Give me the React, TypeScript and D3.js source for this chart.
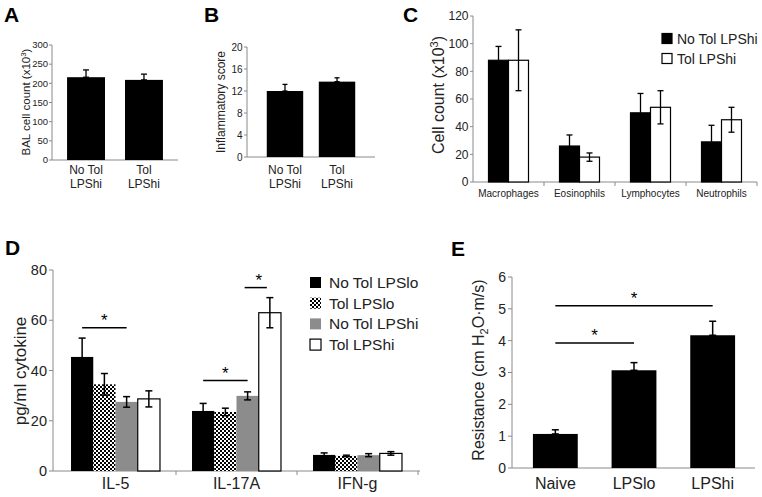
import React from 'react';
import * as d3 from 'd3';

// ---------- Data ----------
const abCategories = ['No Tol|LPShi', 'Tol|LPShi'];
const aValues = [216, 209];
const aErrors = [19, 15];
const aTicks = [0, 50, 100, 150, 200, 250, 300];

const bValues = [12.0, 13.7];
const bErrors = [1.2, 0.7];
const bTicks = [0, 4, 8, 12, 16, 20];

const cCategories = ['Macrophages', 'Eosinophils', 'Lymphocytes', 'Neutrophils'];
const cSeries = ['No Tol LPShi', 'Tol LPShi'];
const cNoTol = [88, 26, 50, 29];
const cNoTolErr = [10, 8, 14, 12];
const cTol = [88, 18, 54, 45];
const cTolErr = [22, 3, 12, 9];
const cTicks = [0, 20, 40, 60, 80, 100, 120];

const dCategories = ['IL-5', 'IL-17A', 'IFN-g'];
const dSeries = ['No Tol LPSlo', 'Tol LPSlo', 'No Tol LPShi', 'Tol LPShi'];
const dNoTolLo = [45.4, 23.9, 6.4];
const dNoTolLoErr = [7.5, 3.0, 0.8];
const dTolLo = [34.5, 23.5, 6.0];
const dTolLoErr = [4.3, 1.5, 0.3];
const dNoTolHi = [27.5, 29.9, 6.3];
const dNoTolHiErr = [2.1, 1.6, 0.6];
const dTolHi = [28.7, 63.0, 7.0];
const dTolHiErr = [3.2, 6.0, 0.7];
const dTicks = [0, 20, 40, 60, 80];
// significance: category, from-series index, to-series index, level
const dSigCat = ['IL-5', 'IL-17A', 'IL-17A'];
const dSigFrom = [0, 0, 2];
const dSigTo = [2, 2, 3];
const dSigLevel = [57, 36, 73];

const eCategories = ['Naive', 'LPSlo', 'LPShi'];
const eValues = [1.07, 3.07, 4.17];
const eErrors = [0.13, 0.24, 0.44];
const eTicks = [0, 1, 2, 3, 4, 5, 6];
const eSigFrom = ['Naive', 'Naive'];
const eSigTo = ['LPShi', 'LPSlo'];
const eSigLevel = [5.1, 3.93];

// ---------- Styles ----------
const FONT = 'Liberation Sans, Arial, Helvetica, sans-serif';
const AXIS = '#8a8a8a';
const GRAY = '#8c8c8c';

type YAxisProps = { x: number; scale: d3.ScaleLinear<number, number>; ticks: number[]; fs: number; tl?: number; gap?: number };
function YAxis({ x, scale, ticks, fs, tl = 4, gap = 2 }: YAxisProps) {
  const [r0, r1] = scale.range();
  return (
    <g>
      <line x1={x} x2={x} y1={r0} y2={r1} stroke={AXIS} strokeWidth={1} />
      {ticks.map((t) => (
        <g key={t}>
          <line x1={x - tl} x2={x} y1={scale(t)} y2={scale(t)} stroke={AXIS} strokeWidth={1} />
          <text x={x - tl - gap} y={scale(t)} dy="0.35em" textAnchor="end" fontSize={fs} fontFamily={FONT} fill="#222">
            {t}
          </text>
        </g>
      ))}
    </g>
  );
}

function ErrBar({ cx, y0, y1, cap, sw = 1.3 }: { cx: number; y0: number; y1: number; cap: number; sw?: number }) {
  return (
    <g stroke="#000" strokeWidth={sw}>
      <line x1={cx} x2={cx} y1={y0} y2={y1} />
      <line x1={cx - cap} x2={cx + cap} y1={y0} y2={y0} />
      <line x1={cx - cap} x2={cx + cap} y1={y1} y2={y1} />
    </g>
  );
}

function Letter({ x, y, t }: { x: number; y: number; t: string }) {
  return (
    <text x={x} y={y} fontSize={21} fontWeight="bold" fontFamily={FONT} fill="#000">
      {t}
    </text>
  );
}

export default function App() {
  // ----- Panel A -----
  const aY = d3.scaleLinear().domain([0, 300]).range([160, 45]);
  const aX = d3.scaleBand().domain(abCategories).range([52, 178]).paddingInner(0.345).paddingOuter(0.26);
  // ----- Panel B -----
  const bY = d3.scaleLinear().domain([0, 20]).range([157, 47]);
  const bX = d3.scaleBand().domain(abCategories).range([247, 375]).paddingInner(0.3).paddingOuter(0.38);
  // ----- Panel C -----
  const cY = d3.scaleLinear().domain([0, 120]).range([182, 16]);
  const cX = d3.scaleBand().domain(cCategories).range([473, 757]);
  const cX1 = d3.scaleBand().domain(cSeries).range([0, cX.bandwidth()]).paddingOuter(0.775);
  const cVals = [cNoTol, cTol];
  const cErrs = [cNoTolErr, cTolErr];
  const cFill = ['#000', '#fff'];
  // ----- Panel D -----
  const dY = d3.scaleLinear().domain([0, 80]).range([471, 270]);
  const dX = d3.scaleBand().domain(dCategories).range([55, 418]);
  const dX1 = d3.scaleBand().domain(dSeries).range([0, dX.bandwidth()]).paddingOuter(0.72);
  const dVals = [dNoTolLo, dTolLo, dNoTolHi, dTolHi];
  const dErrs = [dNoTolLoErr, dTolLoErr, dNoTolHiErr, dTolHiErr];
  const dFill = ['#000', 'url(#checker)', GRAY, '#fff'];
  // ----- Panel E -----
  const eY = d3.scaleLinear().domain([0, 6]).range([468, 277]);
  const eX = d3.scaleBand().domain(eCategories).range([516, 752]).paddingInner(0.43).paddingOuter(0.215);

  return (
    <svg width={762} height={497} style={{ position: 'absolute', left: 0, top: 0, background: '#fff' }}>
      <defs>
        <pattern id="checker" width={4} height={4} patternUnits="userSpaceOnUse">
          <rect width={4} height={4} fill="#000" />
          <rect x={0} y={0} width={2} height={2} fill="#fff" />
          <rect x={2} y={2} width={2} height={2} fill="#fff" />
        </pattern>
      </defs>

      {/* ================= A ================= */}
      <Letter x={4} y={22} t="A" />
      <YAxis x={52} scale={aY} ticks={aTicks} fs={9.5} tl={3} gap={1} />
      <line x1={52} x2={178} y1={160} y2={160} stroke={AXIS} />
      {abCategories.map((c, i) => {
        const x = aX(c)!;
        const cx = x + aX.bandwidth() / 2;
        return (
          <g key={c}>
            <rect x={x} y={aY(aValues[i])} width={aX.bandwidth()} height={aY(0) - aY(aValues[i])} fill="#000" />
            <ErrBar cx={cx} y0={aY(aValues[i] + aErrors[i])} y1={aY(aValues[i])} cap={3} />
            {c.split('|').map((s, k) => (
              <text key={k} x={cx} y={174 + k * 14} textAnchor="middle" fontSize={12} fontFamily={FONT} fill="#222">
                {s}
              </text>
            ))}
          </g>
        );
      })}
      <text transform="translate(30,102) rotate(-90)" textAnchor="middle" fontSize={11.5} fontFamily={FONT} fill="#222">
        BAL cell count (x10<tspan dy={-4} fontSize={8}>3</tspan>
        <tspan dy={4}>)</tspan>
      </text>

      {/* ================= B ================= */}
      <Letter x={204} y={22} t="B" />
      <YAxis x={247} scale={bY} ticks={bTicks} fs={10} tl={3} gap={1.5} />
      <line x1={247} x2={375} y1={157} y2={157} stroke={AXIS} />
      {abCategories.map((c, i) => {
        const x = bX(c)!;
        const cx = x + bX.bandwidth() / 2;
        return (
          <g key={c}>
            <rect x={x} y={bY(bValues[i])} width={bX.bandwidth()} height={bY(0) - bY(bValues[i])} fill="#000" />
            <ErrBar cx={cx} y0={bY(bValues[i] + bErrors[i])} y1={bY(bValues[i])} cap={2.5} />
            {c.split('|').map((s, k) => (
              <text key={k} x={cx} y={174 + k * 14} textAnchor="middle" fontSize={12} fontFamily={FONT} fill="#222">
                {s}
              </text>
            ))}
          </g>
        );
      })}
      <text transform="translate(225,102) rotate(-90)" textAnchor="middle" fontSize={12} fontFamily={FONT} fill="#222">
        Inflammatory score
      </text>

      {/* ================= C ================= */}
      <Letter x={403} y={22} t="C" />
      <YAxis x={473} scale={cY} ticks={cTicks} fs={12} tl={3} gap={1.5} />
      <line x1={473} x2={757} y1={182} y2={182} stroke={AXIS} />
      {cCategories.map((c) => (
        <line key={c} x1={cX(c)! + cX.bandwidth()} x2={cX(c)! + cX.bandwidth()} y1={182} y2={186} stroke={AXIS} />
      ))}
      {cCategories.map((c, ci) => (
        <g key={c}>
          {cSeries.map((s, si) => {
            const x = cX(c)! + cX1(s)!;
            const v = cVals[si][ci];
            return (
              <rect key={s} x={x} y={cY(v)} width={cX1.bandwidth()} height={cY(0) - cY(v)} fill={cFill[si]} stroke="#000" strokeWidth={1.2} />
            );
          })}
          {cSeries.map((s, si) => {
            const cx = cX(c)! + cX1(s)! + cX1.bandwidth() / 2;
            const v = cVals[si][ci];
            const e = cErrs[si][ci];
            return <ErrBar key={s} cx={cx} y0={cY(v + e)} y1={cY(v - e)} cap={3} />;
          })}
          <text x={cX(c)! + cX.bandwidth() / 2} y={197} textAnchor="middle" fontSize={10} fontFamily={FONT} fill="#222">
            {c}
          </text>
        </g>
      ))}
      <text transform="translate(444,95) rotate(-90)" textAnchor="middle" fontSize={16} fontFamily={FONT} fill="#222">
        Cell count (x10<tspan dy={-6} fontSize={11}>3</tspan>
        <tspan dy={6}>)</tspan>
      </text>
      {cSeries.map((s, si) => (
        <g key={s}>
          <rect x={662} y={33.5 + si * 20} width={10} height={10} fill={cFill[si]} stroke="#000" strokeWidth={1.2} />
          <text x={677} y={43.5 + si * 20} fontSize={14} fontFamily={FONT} fill="#222">
            {s}
          </text>
        </g>
      ))}

      {/* ================= D ================= */}
      <Letter x={5} y={255} t="D" />
      <YAxis x={53} scale={dY} ticks={dTicks} fs={14.5} tl={4} />
      <line x1={53} x2={420} y1={471} y2={471} stroke={AXIS} />
      {dCategories.map((c) => (
        <line key={c} x1={dX(c)! + dX.bandwidth()} x2={dX(c)! + dX.bandwidth()} y1={471} y2={475} stroke={AXIS} />
      ))}
      {dCategories.map((c, ci) => (
        <g key={c}>
          {dSeries.map((s, si) => {
            const x = dX(c)! + dX1(s)!;
            const v = dVals[si][ci];
            return (
              <rect
                key={s}
                x={x}
                y={dY(v)}
                width={dX1.bandwidth()}
                height={dY(0) - dY(v)}
                fill={dFill[si]}
                stroke={si === 3 ? '#000' : 'none'}
                strokeWidth={1.2}
              />
            );
          })}
          {dSeries.map((s, si) => {
            const cx = dX(c)! + dX1(s)! + dX1.bandwidth() / 2;
            const v = dVals[si][ci];
            const e = dErrs[si][ci];
            return <ErrBar key={s} cx={cx} y0={dY(v + e)} y1={dY(v - e)} cap={3.5} sw={1.5} />;
          })}
          <text x={dX(c)! + dX.bandwidth() / 2} y={489} textAnchor="middle" fontSize={16} fontFamily={FONT} fill="#222">
            {c}
          </text>
        </g>
      ))}
      {dSigCat.map((c, i) => {
        const x0 = dX(c)! + dX1(dSeries[dSigFrom[i]])! + dX1.bandwidth() / 2;
        const x1 = dX(c)! + dX1(dSeries[dSigTo[i]])! + dX1.bandwidth() / 2;
        const y = dY(dSigLevel[i]);
        return (
          <g key={i}>
            <line x1={x0 + (i === 2 ? -3 : 0)} x2={x1 + (i === 2 ? -3 : 0)} y1={y} y2={y} stroke="#000" strokeWidth={1.5} />
            <text x={(x0 + x1) / 2} y={y - 2} textAnchor="middle" fontSize={17} fontFamily={FONT} fill="#000">
              *
            </text>
          </g>
        );
      })}
      <text transform="translate(26,371) rotate(-90)" textAnchor="middle" fontSize={17} fontFamily={FONT} fill="#222">
        pg/ml cytokine
      </text>
      {dSeries.map((s, si) => (
        <g key={s}>
          <rect x={310} y={277 + si * 20.7} width={11} height={11} fill={dFill[si]} stroke={si === 3 ? '#000' : 'none'} strokeWidth={1.2} />
          <text x={329} y={288 + si * 20.7} fontSize={15.5} fontFamily={FONT} fill="#222">
            {s}
          </text>
        </g>
      ))}

      {/* ================= E ================= */}
      <Letter x={451} y={256} t="E" />
      <YAxis x={512} scale={eY} ticks={eTicks} fs={14} tl={4} />
      <line x1={512} x2={755} y1={468} y2={468} stroke={AXIS} />
      {eCategories.map((c, i) => {
        const x = eX(c)!;
        const cx = x + eX.bandwidth() / 2;
        return (
          <g key={c}>
            <rect x={x} y={eY(eValues[i])} width={eX.bandwidth()} height={eY(0) - eY(eValues[i])} fill="#000" />
            <ErrBar cx={cx} y0={eY(eValues[i] + eErrors[i])} y1={eY(eValues[i])} cap={3.5} sw={1.5} />
            <text x={cx} y={489} textAnchor="middle" fontSize={16} fontFamily={FONT} fill="#222">
              {c}
            </text>
          </g>
        );
      })}
      {eSigFrom.map((f, i) => {
        const x0 = eX(f)! + eX.bandwidth() / 2;
        const x1 = eX(eSigTo[i])! + eX.bandwidth() / 2;
        const y = eY(eSigLevel[i]);
        return (
          <g key={i}>
            <line x1={x0} x2={x1} y1={y} y2={y} stroke="#000" strokeWidth={1.5} />
            <text x={(x0 + x1) / 2} y={y - 2} textAnchor="middle" fontSize={17} fontFamily={FONT} fill="#000">
              *
            </text>
          </g>
        );
      })}
      <text transform="translate(484,370) rotate(-90)" textAnchor="middle" fontSize={16} fontFamily={FONT} fill="#222">
        Resistance (cm H<tspan dy={4} fontSize={11}>2</tspan>
        <tspan dy={-4}>O·m/s)</tspan>
      </text>
    </svg>
  );
}
